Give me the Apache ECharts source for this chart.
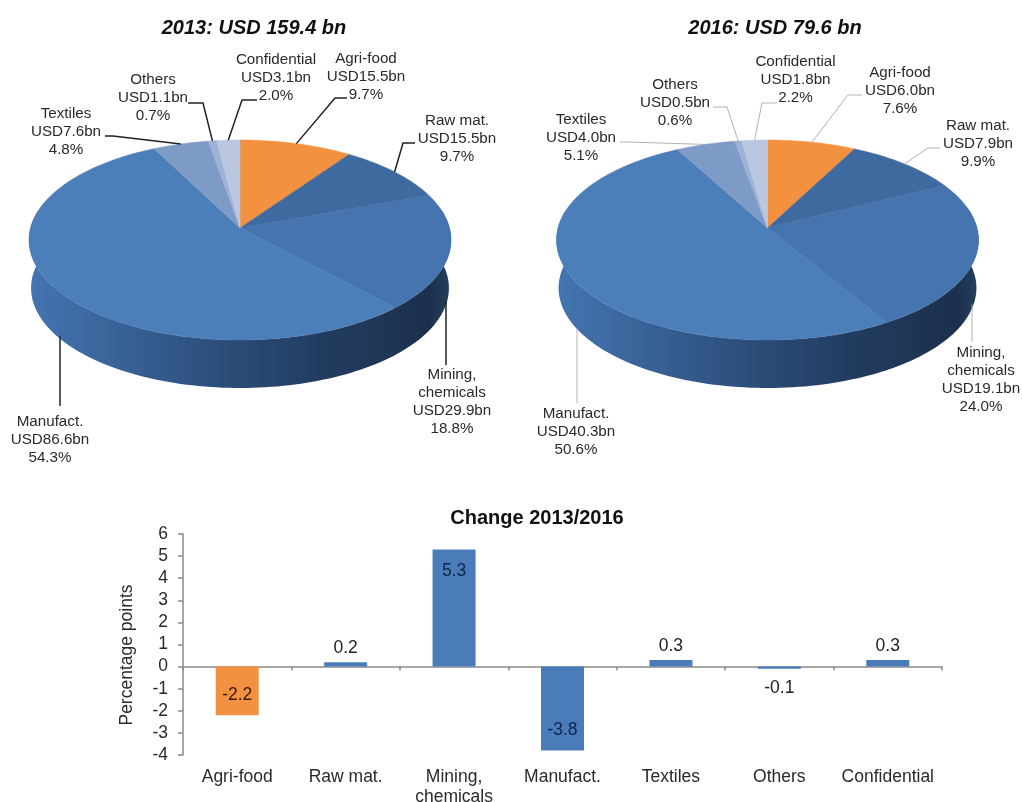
<!DOCTYPE html>
<html>
<head>
<meta charset="utf-8">
<style>html,body{margin:0;padding:0;background:#fff}#c{width:1022px;height:802px}</style>
<script src="https://cdn.jsdelivr.net/npm/echarts@6/dist/echarts.min.js"></script>
</head>
<body>
<div id="c"></div>
<script>
// ---------- data ----------
const sectors = ['Agri-food', 'Raw mat.', 'Mining,\nchemicals', 'Manufact.', 'Textiles', 'Others', 'Confidential'];
const usd2013 = ['15.5', '15.5', '29.9', '86.6', '7.6', '1.1', '3.1'];
const pct2013 = [9.7, 9.7, 18.8, 54.3, 4.8, 0.7, 2.0];
const usd2016 = ['6.0', '7.9', '19.1', '40.3', '4.0', '0.5', '1.8'];
const pct2016 = [7.6, 9.9, 24.0, 50.6, 5.1, 0.6, 2.2];
const changePts = [-2.2, 0.2, 5.3, -3.8, 0.3, -0.1, 0.3];
const yTicks = { min: -4, max: 6, interval: 1 };
const title2013 = '2013: USD 159.4 bn';
const title2016 = '2016: USD 79.6 bn';
const titleChange = 'Change 2013/2016';
const yName = 'Percentage points';

// ---------- styles and layout ----------
const FONT = '"Liberation Sans", Arial, sans-serif';
const sliceColors = ['#f29140', '#3f6a9f', '#4674ae', '#4c7eba', '#7e9ac6', '#9db2d6', '#b9c7e0'];
const sideStops = [
  { offset: 0, color: '#4475b0' }, { offset: 0.12, color: '#3d6ba3' }, { offset: 0.3, color: '#345a8c' },
  { offset: 0.5, color: '#2a4a75' }, { offset: 0.7, color: '#223c60' }, { offset: 0.95, color: '#1c304c' },
  { offset: 1, color: '#24405f' }
];
// perspective-ellipse geometry of each tilted disc
const DISC = { cy: 228, a: 209.5, b: 98.56, k: 0.12, depth: 48, shrink: 0.99 };
// label box centre [x, y] and the leader's extra bend/end points, one per sector
const layout2013 = {
  cx: 240, line: { color: '#222', width: 1.5 },
  text: [[366, 77], [457, 139], [452, 402], [50, 440], [66, 132], [153, 98], [276, 78]],
  lead: [[[335, 98], [347, 98]], [[403, 143], [415, 143]], [[446, 365]], [[60, 406]],
         [[113, 136], [105, 136]], [[203, 103], [188, 103]], [[242, 100], [257, 100]]]
};
const layout2016 = {
  cx: 767.5, line: { color: '#a8a8a8', width: 0.9 },
  text: [[900, 91], [978, 144], [981, 380], [576, 432], [581, 138], [675, 103], [795.5, 80]],
  lead: [[[848, 95], [862, 95]], [[928, 148], [940, 148]], [[972, 342]], [[577, 403]],
         [[628, 142], [620, 142]], [[727, 107], [713, 107]], [[762, 103], [777, 103]]]
};

// ---------- disc projection ----------
function rim(cx, deg) {
  const t = deg * Math.PI / 180, u = Math.sin(t), v = -Math.cos(t), w = 1 - DISC.k * v;
  return [cx + DISC.a * u / w, DISC.cy + DISC.b * v / w];
}
function lowRim(cx, deg) {
  const p = rim(cx, deg);
  return [cx + (p[0] - cx) * DISC.shrink, p[1] + DISC.depth];
}
function bounds(pcts) {
  let acc = 0;
  return pcts.map(p => { const s = acc; acc += p; return [s * 3.6, acc * 3.6]; });
}
function arc(fn, cx, from, to) {
  const pts = [];
  const n = Math.max(2, Math.ceil((to - from) / 1.5));
  for (let i = 0; i <= n; i++) pts.push(fn(cx, from + (to - from) * i / n));
  return pts;
}
function pieData(pcts) {
  return pcts.map((p, i) => ({ name: sectors[i], value: p }));
}
function sideSeries(pcts, lay) {
  const b = bounds(pcts);
  return {
    type: 'custom', coordinateSystem: 'none', silent: true, z: 1, animation: false,
    data: pieData(pcts),
    renderItem(params) {
      const from = Math.max(b[params.dataIndex][0], 80), to = Math.min(b[params.dataIndex][1], 280);
      if (to <= from) return { type: 'group', children: [] };
      const over = 0.8; // slight overlap so neighbouring sides show no seam
      const pts = arc(rim, lay.cx, from - over, to + over).concat(arc(lowRim, lay.cx, from - over, to + over).reverse());
      const fill = { type: 'linear', global: true, x: lay.cx - 211, y: 0, x2: lay.cx + 211, y2: 0, colorStops: sideStops };
      return { type: 'polygon', shape: { points: pts }, style: { fill: fill } };
    }
  };
}
function topSeries(pcts, lay) {
  const b = bounds(pcts);
  return {
    type: 'custom', coordinateSystem: 'none', silent: true, z: 2, animation: false,
    data: pieData(pcts),
    renderItem(params) {
      const i = params.dataIndex;
      const pts = [[lay.cx, DISC.cy]].concat(arc(rim, lay.cx, b[i][0], b[i][1]));
      return { type: 'polygon', shape: { points: pts },
        style: { fill: sliceColors[i], stroke: sliceColors[i], lineWidth: 0.5 } };
    }
  };
}
function labelSeries(pcts, usd, lay) {
  const b = bounds(pcts);
  return {
    type: 'custom', coordinateSystem: 'none', silent: true, z: 3, animation: false,
    data: pieData(pcts),
    renderItem(params) {
      const i = params.dataIndex, mid = (b[i][0] + b[i][1]) / 2;
      const anchor = (mid > 90 && mid < 270) ? lowRim(lay.cx, mid) : rim(lay.cx, mid);
      const pts = [anchor].concat(lay.lead[i]);
      if (lay.lead[i].length === 1) pts[0] = [lay.lead[i][0][0], anchor[1]];
      return { type: 'group', children: [
        { type: 'polyline', shape: { points: pts },
          style: { stroke: lay.line.color, lineWidth: lay.line.width, fill: null } },
        { type: 'text', style: {
            x: lay.text[i][0], y: lay.text[i][1], align: 'center', verticalAlign: 'middle',
            text: sectors[i] + '\nUSD' + usd[i] + 'bn\n' + pcts[i].toFixed(1) + '%',
            fontFamily: FONT, fontSize: 15.2, lineHeight: 18, fill: '#2a2a2a' } }
      ] };
    }
  };
}

// ---------- bars ----------
const barData = changePts.map((v, i) => {
  const big = Math.abs(v) > 1;
  return {
    value: v,
    itemStyle: { color: i === 0 ? '#f29140' : '#4a7cb9' },
    label: {
      show: true, formatter: v.toFixed(1),
      position: big ? (v > 0 ? 'insideTop' : 'insideBottom') : (v > 0 ? 'top' : 'bottom'),
      distance: big ? (v > 0 ? 13 : 11) : (v > 0 ? 5 : 10),
      color: big ? (i === 0 ? '#3a1c05' : '#0e2548') : '#222',
      fontFamily: FONT, fontSize: 17.5
    }
  };
});

const chart = echarts.init(document.getElementById('c'), null, { renderer: 'canvas' });
const titleStyle = { fontFamily: FONT, fontSize: 20, fontWeight: 'bold', fontStyle: 'italic', color: '#111' };
chart.setOption({
  backgroundColor: '#fff',
  animation: false,
  title: [
    { text: title2013, left: 254, top: 18, textAlign: 'center', textStyle: titleStyle, padding: 0 },
    { text: title2016, left: 775, top: 18, textAlign: 'center', textStyle: titleStyle, padding: 0 },
    { text: titleChange, left: 537, top: 508, textAlign: 'center', padding: 0,
      textStyle: { fontFamily: FONT, fontSize: 20, fontWeight: 'bold', color: '#111' } }
  ],
  grid: { left: 183, top: 534, width: 759, height: 221, outerBoundsMode: 'none' },
  xAxis: [
    {
      type: 'category', data: sectors, boundaryGap: true,
      axisLine: { onZero: true, lineStyle: { color: '#8a8a8a', width: 1.5 } },
      axisTick: { show: true, length: 4, lineStyle: { color: '#8a8a8a', width: 1.5 } },
      axisLabel: { show: false }
    },
    {
      type: 'category', data: sectors, boundaryGap: true, position: 'bottom',
      axisLine: { show: false, onZero: false },
      axisTick: { show: false },
      axisLabel: { interval: 0, margin: 12, fontFamily: FONT, fontSize: 17.5, color: '#2a2a2a', lineHeight: 20, verticalAlign: 'top' }
    }
  ],
  yAxis: {
    type: 'value', min: yTicks.min, max: yTicks.max, interval: yTicks.interval,
    name: yName, nameLocation: 'middle', nameGap: 47, nameRotate: 90,
    nameTextStyle: { fontFamily: FONT, fontSize: 17.5, color: '#2a2a2a', padding: [0, 21, 0, 0] },
    splitLine: { show: false },
    axisLine: { show: true, lineStyle: { color: '#8a8a8a', width: 1.5 } },
    axisTick: { show: true, length: 5, lineStyle: { color: '#8a8a8a', width: 1.5 } },
    axisLabel: { margin: 15, fontFamily: FONT, fontSize: 17.5, color: '#2a2a2a' }
  },
  series: [
    sideSeries(pct2013, layout2013), topSeries(pct2013, layout2013), labelSeries(pct2013, usd2013, layout2013),
    sideSeries(pct2016, layout2016), topSeries(pct2016, layout2016), labelSeries(pct2016, usd2016, layout2016),
    { type: 'bar', xAxisIndex: 0, data: barData, barWidth: 43, silent: true, z: 2 }
  ]
});
</script>
</body>
</html>
